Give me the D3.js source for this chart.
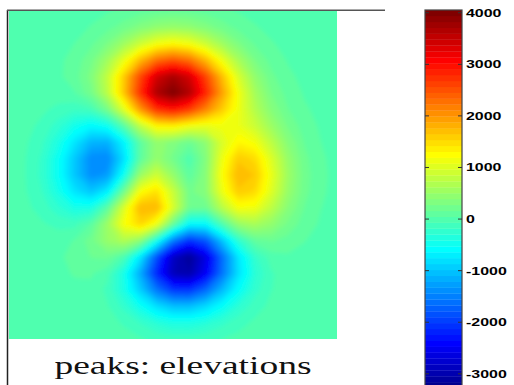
<!DOCTYPE html>
<html>
<head>
<meta charset="utf-8">
<script src="https://cdn.jsdelivr.net/npm/d3@7"></script>
<style>
body{margin:0;background:#fff;}
svg{display:block;}
</style>
</head>
<body>
<svg id="chart" width="514" height="385"></svg>
<script>
// grid of sample positions (x left->right, y top->bottom)
var gridX = [-3,-2.7,-2.4,-2.1,-1.8,-1.5,-1.2,-0.9,-0.6,-0.3,0,0.3,0.6,0.9,1.2,1.5,1.8,2.1,2.4,2.7,3];
var gridY = [3,2.7,2.4,2.1,1.8,1.5,1.2,0.9,0.6,0.3,0,-0.3,-0.6,-0.9,-1.2,-1.5,-1.8,-2.1,-2.4,-2.7,-3];

// elevations, one row per gridY
var elevation = [
	[0,0,0,2,6,16,35,67,104,137,150,137,104,67,35,16,6,2,0,0,0],
	[0,0,1,6,18,50,115,217,342,448,490,447,342,219,117,53,20,6,2,0,0],
	[0,1,3,13,46,127,291,554,874,1146,1254,1145,876,562,303,137,53,17,5,1,0],
	[0,1,5,23,83,240,565,1088,1727,2270,2482,2267,1736,1119,610,281,110,37,10,2,1],
	[0,0,3,22,100,322,803,1595,2567,3388,3703,3379,2597,1696,947,454,187,66,20,5,1],
	[-2,-5,-12,-13,36,239,749,1639,2747,3667,3998,3640,2826,1909,1134,593,270,105,35,10,2],
	[-4,-16,-46,-102,-156,-96,256,1002,1964,2723,2944,2656,2134,1599,1115,695,370,163,59,18,4],
	[-8,-32,-98,-240,-452,-614,-498,33,777,1285,1327,1138,1064,1126,1095,860,530,256,98,30,7],
	[-13,-51,-158,-393,-763,-1116,-1144,-660,64,461,345,173,427,970,1294,1162,762,380,148,46,11],
	[-17,-66,-203,-504,-975,-1416,-1437,-818,66,482,232,-32,333,1118,1615,1489,988,495,194,60,15],
	[-18,-69,-214,-523,-991,-1387,-1290,-500,509,901,491,66,384,1219,1766,1635,1086,546,213,67,17],
	[-16,-60,-180,-429,-779,-996,-706,204,1197,1454,852,235,389,1111,1615,1504,1003,505,198,62,15],
	[-11,-40,-117,-264,-428,-408,60,965,1761,1760,964,198,178,734,1177,1135,770,390,154,48,12],
	[-6,-20,-54,-104,-111,61,536,1184,1524,1115,144,-616,-607,-36,486,621,463,245,98,31,8],
	[-2,-6,-12,-6,53,224,499,675,405,-456,-1520,-2091,-1819,-1016,-267,111,175,113,49,16,4],
	[0,0,5,26,80,163,189,-51,-756,-1848,-2840,-3154,-2628,-1647,-751,-220,-15,25,17,6,2],
	[0,2,8,24,52,62,-46,-432,-1191,-2162,-2916,-3038,-2484,-1597,-801,-306,-83,-12,1,2,1],
	[0,2,6,15,26,12,-99,-403,-939,-1577,-2036,-2071,-1679,-1088,-563,-230,-73,-17,-3,0,0],
	[0,1,3,8,12,2,-61,-223,-499,-819,-1043,-1052,-850,-553,-289,-121,-40,-10,-2,0,0],
	[0,0,1,3,6,2,-22,-85,-193,-319,-407,-411,-332,-217,-114,-48,-16,-4,-1,0,0],
	[0,0,1,1,2,2,-4,-23,-55,-94,-122,-124,-101,-66,-35,-15,-5,-1,0,0,0]
];

var colorExtent = [-3275, 4053];
var colorTicks = [-3000,-2000,-1000,0,1000,2000,3000,4000];
var titleText = 'peaks: elevations';

var svg = d3.select('#chart');
var plot = {x:9, y:11, w:328, h:328};

var x = d3.scaleLinear().domain([d3.min(gridX), d3.max(gridX)]).range([plot.x, plot.x+plot.w]);
var y = d3.scaleLinear().domain([d3.max(gridY), d3.min(gridY)]).range([plot.y, plot.y+plot.h]);

// matlab style jet, 64 levels
var nLevels = 64;
var jet = d3.scaleLinear()
	.domain([0,7,23,39,55,63])
	.range(['rgb(0,0,143)','rgb(0,0,255)','rgb(0,255,255)','rgb(255,255,0)','rgb(255,0,0)','rgb(128,0,0)']);
var step = (colorExtent[1]-colorExtent[0])/nLevels;
var thresholds = d3.range(nLevels).map(function(k){ return colorExtent[0] + k*step; });

// heat map from contour bands
var values = [];
elevation.forEach(function(row){ row.forEach(function(v){ values.push(v); }); });
var contours = d3.contours()
	.size([gridX.length, gridY.length])
	.thresholds(thresholds)(values);

var k = x(gridX[1]) - x(gridX[0]);
var proj = d3.geoIdentity().scale(k).translate([x(gridX[0]) - 0.5*k, y(gridY[0]) - 0.5*k]);
var path = d3.geoPath(proj);

var defs = svg.append('defs');
defs.append('clipPath').attr('id','plotclip')
	.append('rect').attr('x',plot.x).attr('y',plot.y).attr('width',plot.w).attr('height',plot.h);
// soften the polygon edges of the coarse grid
defs.append('filter').attr('id','soft')
	.attr('x','-5%').attr('y','-5%').attr('width','110%').attr('height','110%')
	.append('feGaussianBlur').attr('stdDeviation',2.2);

svg.append('g')
	.attr('clip-path','url(#plotclip)')
	.append('g')
	.attr('filter','url(#soft)')
	.selectAll('path')
	.data(contours)
	.enter()
	.append('path')
	.attr('d',path)
	.attr('fill',function(d,i){ return jet(i); })
	.attr('stroke',function(d,i){ return jet(i); })
	.attr('stroke-width',0.5);

// axes frame (left and top edge)
svg.append('line').attr('x1',7.5).attr('x2',7.5).attr('y1',10).attr('y2',385)
	.attr('stroke','#222').attr('stroke-width',1.5);
svg.append('line').attr('x1',7).attr('x2',385).attr('y1',10.3).attr('y2',10.3)
	.attr('stroke','#555').attr('stroke-width',1.6);

// title
svg.append('text')
	.attr('x',183).attr('y',374)
	.attr('text-anchor','middle')
	.attr('font-family','"Liberation Serif", "Times New Roman", serif')
	.attr('font-size',25)
	.attr('textLength',257)
	.attr('lengthAdjust','spacingAndGlyphs')
	.attr('fill','#111')
	.text(titleText);

// colorbar
var cb = {x:425, w:37};
var cbY = d3.scaleLinear().domain(colorExtent).range([388, 10]);
var cbg = svg.append('g');
cbg.selectAll('rect.band')
	.data(thresholds)
	.enter()
	.append('rect')
	.attr('class','band')
	.attr('x',cb.x)
	.attr('width',cb.w)
	.attr('y',function(t){ return cbY(t+step); })
	.attr('height',function(t){ return cbY(t)-cbY(t+step)+0.3; })
	.attr('fill',function(t,i){ return jet(i); });
cbg.append('rect')
	.attr('x',cb.x).attr('y',cbY(colorExtent[1]))
	.attr('width',cb.w).attr('height',cbY(colorExtent[0])-cbY(colorExtent[1]))
	.attr('fill','none').attr('stroke','#444').attr('stroke-width',1.2);

var tk = cbg.selectAll('g.tick')
	.data(colorTicks)
	.enter()
	.append('g')
	.attr('class','tick')
	.attr('transform',function(d){ return 'translate(0,'+cbY(d)+')'; });
tk.append('line').attr('x1',cb.x).attr('x2',cb.x+4).attr('stroke','#333').attr('stroke-width',1);
tk.append('line').attr('x1',cb.x+cb.w-4).attr('x2',cb.x+cb.w).attr('stroke','#333').attr('stroke-width',1);
tk.append('text')
	.attr('transform','translate('+(cb.x+cb.w+4)+',0) scale(1.45,1)')
	.attr('dy','0.36em')
	.attr('font-family','"Liberation Sans", Arial, sans-serif')
	.attr('font-weight','bold')
	.attr('font-size',11)
	.attr('fill','#000')
	.text(function(d){ return String(d); });
</script>
</body>
</html>
